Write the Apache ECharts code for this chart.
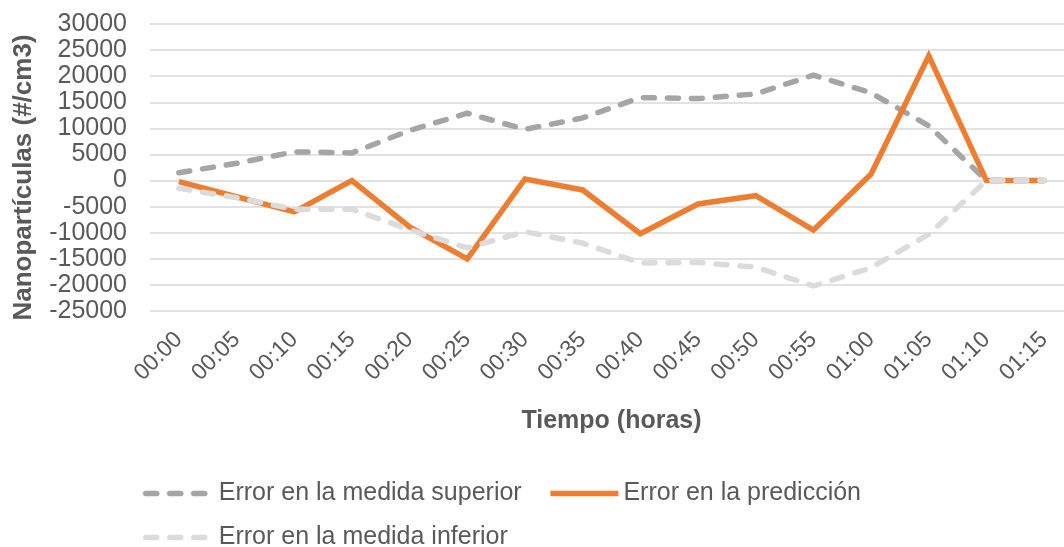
<!DOCTYPE html>
<html>
<head>
<meta charset="utf-8">
<script src="https://cdn.jsdelivr.net/npm/echarts@6/dist/echarts.min.js"></script>
<style>
  html, body { margin: 0; padding: 0; background: #fff; }
  #chart { width: 1064px; height: 547px; }
</style>
</head>
<body>
<div id="chart"></div>
<script>
// categorías del eje X (tiempo)
const tiempos = ["00:00", "00:05", "00:10", "00:15", "00:20", "00:25", "00:30", "00:35",
  "00:40", "00:45", "00:50", "00:55", "01:00", "01:05", "01:10", "01:15"];
// series
const errorSuperior = [1500, 3300, 5500, 5300, 9600, 12900, 9800, 12000, 15900, 15700, 16600, 20200, 16800, 10500, 0, 0];
const errorPrediccion = [-200, -3100, -6000, 0, -8900, -15000, 300, -1800, -10200, -4500, -2900, -9500, 1250, 23900, 0, 0];
const errorInferior = [-1500, -3300, -5500, -5500, -9400, -12900, -9800, -12000, -15800, -15700, -16600, -20200, -16700, -10300, 0, 0];

const nombres = ["Error en la medida superior", "Error en la predicción", "Error en la medida inferior"];
const fuente = "'Liberation Sans', Arial, sans-serif";
const gris = "#595959";

let myChart = echarts.init(document.getElementById("chart"));

function leyenda(top, datos) {
  return {
    top: top,
    left: 138,
    itemWidth: 68,
    itemHeight: 14,
    itemGap: 26,
    data: datos,
    textStyle: { color: gris, fontSize: 25, fontFamily: fuente },
    lineStyle: { width: 5.5 },
    itemStyle: { opacity: 0 } // sin símbolo en la leyenda
  };
}

function linea(nombre, datos, color, dashed) {
  return {
    name: nombre,
    type: "line",
    data: datos,
    symbol: "none",
    lineStyle: {
      color: color,
      width: 5.5,
      type: dashed ? [11, 13] : "solid",
      cap: dashed ? "round" : "butt",
      join: "miter"
    },
    itemStyle: { color: color }
  };
}

myChart.setOption({
  animation: false,
  textStyle: { fontFamily: fuente },
  grid: { left: 150, top: 24, right: -9, height: 287, outerBoundsMode: "none" },
  legend: [
    leyenda(476, [nombres[0], nombres[1]]),
    leyenda(520, [nombres[2]])
  ],
  xAxis: {
    type: "category",
    data: tiempos,
    boundaryGap: true,
    name: "Tiempo (horas)",
    nameLocation: "middle",
    nameGap: 98,
    nameTextStyle: { color: gris, fontSize: 25, fontWeight: "bold", fontFamily: fuente },
    axisLine: { show: false },
    axisTick: { show: false },
    axisLabel: { color: gris, fontSize: 23, rotate: 45, margin: 25, fontFamily: fuente, interval: 0 }
  },
  yAxis: {
    type: "value",
    min: -25000,
    max: 30000,
    interval: 5000,
    name: "Nanopartículas (#/cm3)",
    nameLocation: "middle",
    nameGap: 113,
    nameTextStyle: { color: gris, fontSize: 26, fontWeight: "bold", fontFamily: fuente, padding: [0, 20, 0, 0] },
    axisLine: { show: false },
    axisTick: { show: false },
    axisLabel: { color: gris, fontSize: 25, margin: 23, fontFamily: fuente, formatter: v => String(v) },
    splitLine: { lineStyle: { color: "#D9D9D9", width: 1.5 } }
  },
  series: [
    linea(nombres[0], errorSuperior, "#A5A5A5", true),
    linea(nombres[1], errorPrediccion, "#ED7D31", false),
    linea(nombres[2], errorInferior, "#DBDBDB", true)
  ]
});
</script>
</body>
</html>
